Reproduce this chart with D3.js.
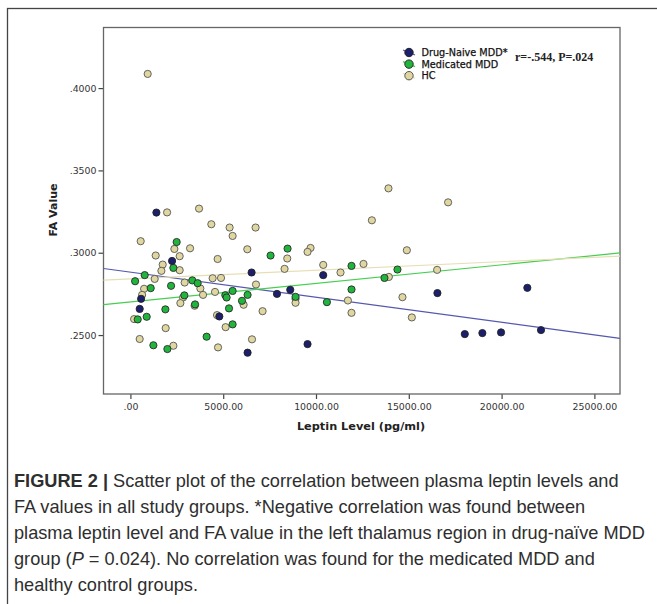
<!DOCTYPE html>
<html>
<head>
<meta charset="utf-8">
<script src="https://cdn.jsdelivr.net/npm/d3@7"></script>
<style>
  body { margin: 0; background: #fff; }
  svg { display: block; }
</style>
</head>
<body>
<div id="chart"></div>
<script>
// Data (leptin pg/ml, FA value)
var naiveX = [1400, 2245, 6530, 7897, 576, 500, 4791, 6314, 10389, 8613, 16542, 9544, 18017, 18964, 19971, 22124, 21387];
var naiveY = [0.3244, 0.2950, 0.2880, 0.2750, 0.2720, 0.2659, 0.2613, 0.2393, 0.2864, 0.2775, 0.2755, 0.2445, 0.2506, 0.2512, 0.2516, 0.2530, 0.2787];

var medX = [2492, 7552, 2315, 770, 253, 3337, 3623, 2191, 1093, 5507, 5114, 6314, 2907, 5184, 6013, 3483,
  1884, 5313, 393, 877, 5507, 4107, 1238, 1992, 8468, 11913, 14389, 13689, 11913, 8898, 10588];
var medY = [0.3065, 0.2983, 0.2908, 0.2864, 0.2827, 0.2832, 0.2815, 0.2799, 0.2785, 0.2768, 0.2742, 0.2744, 0.2741, 0.2728, 0.2708, 0.2686,
  0.2656, 0.2662, 0.2595, 0.2611, 0.2565, 0.2490, 0.2438, 0.2415, 0.3025, 0.2920, 0.2898, 0.2847, 0.2777, 0.2732, 0.2700];

var hcX = [931, 1976, 3698, 4360, 5345, 6745, 5507, 554, 2369, 3214, 6298, 1362, 2654, 4699, 1739, 1669, 2654, 1308, 4430, 4882,
  2923, 6766, 737, 3768, 4559, 630, 3913, 2837, 6099, 2692, 3461, 7122, 4667, 199, 5130, 1900, 500, 6551, 2315, 4721,
  13904, 17118, 13011, 9706, 9544, 14895, 8451, 8306, 10389, 12559, 11321, 16526, 13926, 8898, 8898, 11719, 14658, 11913, 15164];
var hcY = [0.4086, 0.3245, 0.3268, 0.3173, 0.3153, 0.3153, 0.3102, 0.3070, 0.3023, 0.3027, 0.3021, 0.2983, 0.2979, 0.2962, 0.2928, 0.2890, 0.2894, 0.2841, 0.2845, 0.2847,
  0.2819, 0.2807, 0.2781, 0.2783, 0.2762, 0.2744, 0.2744, 0.2728, 0.2684, 0.2694, 0.2678, 0.2645, 0.2621, 0.2597, 0.2548, 0.2542, 0.2476, 0.2474, 0.2435, 0.2425,
  0.3391, 0.3306, 0.3197, 0.3029, 0.3005, 0.3015, 0.2965, 0.2902, 0.2926, 0.2932, 0.2880, 0.2896, 0.2853, 0.2720, 0.2696, 0.2710, 0.2730, 0.2635, 0.2607];

// fit lines (intercept, slope)
var groupNames = ["Drug-Naive MDD*", "Medicated MDD", "HC"];
var fitIntercept = [0.2882, 0.2701, 0.2841];
var fitSlope = [-1.523e-6, 1.128e-6, 5.25e-7];

var xTicks = [0, 5000, 10000, 15000, 20000, 25000];
var yTicks = [0.25, 0.30, 0.35, 0.40];

var captionLines = [
  "Scatter plot of the correlation between plasma leptin levels and",
  "FA values in all study groups. *Negative correlation was found between",
  "plasma leptin level and FA value in the left thalamus region in drug-naïve MDD",
  "group (",
  "healthy control groups."
];

var svgWidth = 657;
var svgHeight = 604;

var margin = { top: 27.5, left: 103.5 };
var width = 516.5;
var height = 366.5;

var fills = ["#1b1f6c", "#20b53c", "#e0d7a0"];
var strokes = ["#222", "#2a2a2a", "#555"];
var lineColors = ["#5558ad", "#45cf4f", "#e6dfb6"];

var svg = d3.select("#chart")
  .append("svg")
  .attr("width", svgWidth)
  .attr("height", svgHeight);

// outer figure frame
svg.append("rect")
  .attr("x", 7.5)
  .attr("y", 8.5)
  .attr("width", 700)
  .attr("height", 650)
  .attr("fill", "none")
  .attr("stroke", "#444")
  .attr("stroke-width", 1.3);

var chartGroup = svg.append("g")
  .attr("transform", `translate(${margin.left}, ${margin.top})`);

var xScale = d3.scaleLinear().domain([-1450, 26380]).range([0, width]);
var yScale = d3.scaleLinear().domain([0.2142, 0.4368]).range([height, 0]);

// axes
var bottomAxis = d3.axisBottom(xScale)
  .tickValues(xTicks)
  .tickSize(5)
  .tickFormat(d => d3.format(".2f")(d).replace(/^0\./, "."));
var leftAxis = d3.axisLeft(yScale)
  .tickValues(yTicks)
  .tickSize(5)
  .tickFormat(d => d3.format(".4f")(d).replace(/^0\./, "."));

var xAxisG = chartGroup.append("g")
  .attr("transform", `translate(0, ${height})`)
  .call(bottomAxis);
var yAxisG = chartGroup.append("g").call(leftAxis);

[xAxisG, yAxisG].forEach(function(g) {
  g.select(".domain").remove();
  g.selectAll(".tick line").attr("stroke", "#444").attr("stroke-width", 1.2);
  g.selectAll(".tick text")
    .attr("fill", "#333")
    .style("font-family", "DejaVu Sans, sans-serif")
    .style("font-size", "9.4px");
});
xAxisG.selectAll(".tick text").attr("y", 9);
yAxisG.selectAll(".tick text").attr("x", -7);

// plot frame
chartGroup.append("rect")
  .attr("width", width)
  .attr("height", height)
  .attr("fill", "none")
  .attr("stroke", "#666")
  .attr("stroke-width", 1.3);

// fit lines
var xDom = xScale.domain();
groupNames.forEach(function(name, i) {
  chartGroup.append("line")
    .attr("x1", xScale(xDom[0]))
    .attr("y1", yScale(fitIntercept[i] + fitSlope[i] * xDom[0]))
    .attr("x2", xScale(xDom[1]))
    .attr("y2", yScale(fitIntercept[i] + fitSlope[i] * xDom[1]))
    .attr("stroke", lineColors[i])
    .attr("stroke-width", 1.2);
});

// points
var groups = [
  d3.zip(naiveX, naiveY),
  d3.zip(medX, medY),
  d3.zip(hcX, hcY)
];
[2, 1, 0].forEach(function(i) {
  chartGroup.append("g")
    .selectAll("circle")
    .data(groups[i])
    .enter()
    .append("circle")
    .attr("cx", d => xScale(d[0]))
    .attr("cy", d => yScale(d[1]))
    .attr("r", 3.6)
    .attr("fill", fills[i])
    .attr("stroke", strokes[i])
    .attr("stroke-width", 0.9);
});

// legend
var legend = svg.append("g").attr("transform", "translate(409, 52.5)");
groupNames.forEach(function(name, i) {
  var row = legend.append("g").attr("transform", `translate(0, ${i * 11.6})`);
  row.append("line")
    .attr("x1", -6).attr("y1", -2.5)
    .attr("x2", 6).attr("y2", 2.5)
    .attr("stroke", lineColors[i])
    .attr("stroke-width", 1.2);
  row.append("circle")
    .attr("r", 4.2)
    .attr("fill", fills[i])
    .attr("stroke", strokes[i])
    .attr("stroke-width", 1);
  row.append("text")
    .attr("x", 12.5)
    .attr("y", 3.5)
    .style("font-family", "DejaVu Sans, sans-serif")
    .style("font-size", "9.7px")
    .attr("fill", "#111")
    .attr("stroke", "#111")
    .attr("stroke-width", 0.25)
    .text(name);
});

svg.append("text")
  .attr("x", 515)
  .attr("y", 60.5)
  .style("font-family", "Liberation Serif, serif")
  .style("font-weight", "bold")
  .style("font-size", "12px")
  .attr("fill", "#222")
  .text("r=-.544, P=.024");

// axis titles
svg.append("text")
  .attr("transform", "translate(57, 210) rotate(-90)")
  .attr("text-anchor", "middle")
  .style("font-family", "DejaVu Sans, sans-serif")
  .style("font-weight", "bold")
  .style("font-size", "11px")
  .attr("fill", "#222")
  .text("FA Value");

svg.append("text")
  .attr("x", 361)
  .attr("y", 430)
  .attr("text-anchor", "middle")
  .style("font-family", "DejaVu Sans, sans-serif")
  .style("font-weight", "bold")
  .style("font-size", "11.3px")
  .attr("fill", "#222")
  .text("Leptin Level (pg/ml)");

// caption
var caption = svg.append("g")
  .style("font-family", "Liberation Sans, Arial, sans-serif")
  .style("font-size", "18.2px")
  .attr("fill", "#2e2e2e");

captionLines.forEach(function(line, i) {
  var t = caption.append("text")
    .attr("x", 14)
    .attr("y", 487 + i * 26);
  if (i === 0) {
    t.append("tspan").style("font-weight", "bold").text("FIGURE 2 | ");
    t.append("tspan").text(line);
  } else if (i === 3) {
    t.append("tspan").text(line);
    t.append("tspan").style("font-style", "italic").text("P");
    t.append("tspan").text(" = 0.024). No correlation was found for the medicated MDD and");
  } else {
    t.text(line);
  }
});
</script>
</body>
</html>
